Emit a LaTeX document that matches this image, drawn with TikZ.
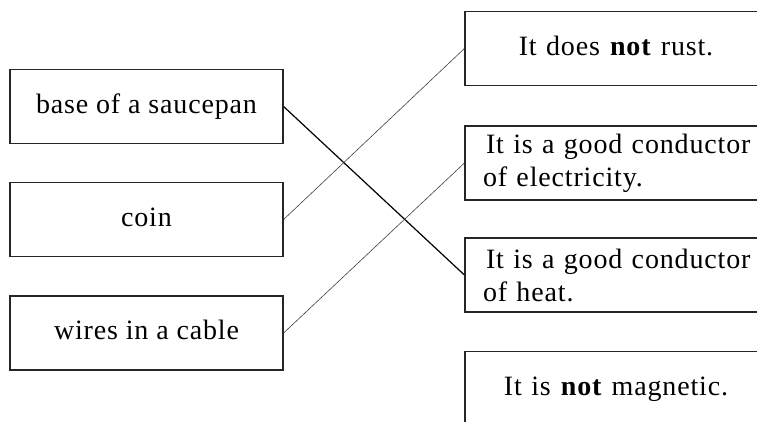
\documentclass[tikz,border=0pt]{standalone}
\usepackage{fontspec}
\setmainfont{Liberation Serif}[LetterSpace=3]
\begin{document}
\begin{tikzpicture}[x=1pt,y=-1pt,
  every node/.style={font=\fontsize{28}{33}\selectfont},
  leftbox/.style={draw=black!85,line width=1.2pt,rectangle,inner sep=0pt,
    minimum width=273pt,minimum height=74pt,text height=20pt,text depth=7pt},
  rightbox/.style={draw=black!85,line width=1.2pt,rectangle,inner ysep=0pt,inner xsep=18pt,
    text width=266pt,minimum height=74pt},
  oneline/.style={align=center,text height=20pt,text depth=7pt},
  thinlink/.style={draw=black!75,line width=0.6pt},
  thicklink/.style={draw=black,line width=1.2pt}]
\useasboundingbox (0,0) rectangle (757,421);
\clip (0,0) rectangle (757,421);
% left boxes
\node[leftbox] (L1) at (146.5,106.5) {base of a saucepan};
\node[leftbox] (L2) at (146.5,219.5) {coin};
\node[leftbox] (L3) at (146.5,333) {wires in a cable};
% right boxes
\node[rightbox,oneline] (R1) at (616,48.5) {It does \textbf{not} rust.};
\node[rightbox,align=left] (R2) at (616,163) {\hspace{3pt}It is a good conductor\\of electricity.};
\node[rightbox,align=left] (R3) at (616,275) {\hspace{3pt}It is a good conductor\\of heat.};
\node[rightbox,oneline] (R4) at (616,388.5) {It is \textbf{not} magnetic.};
% links
\draw[thicklink] (L1.east) -- (R3.west);
\draw[thinlink] (L2.east) -- (R1.west);
\draw[thinlink] (L3.east) -- (R2.west);
\end{tikzpicture}
\end{document}
